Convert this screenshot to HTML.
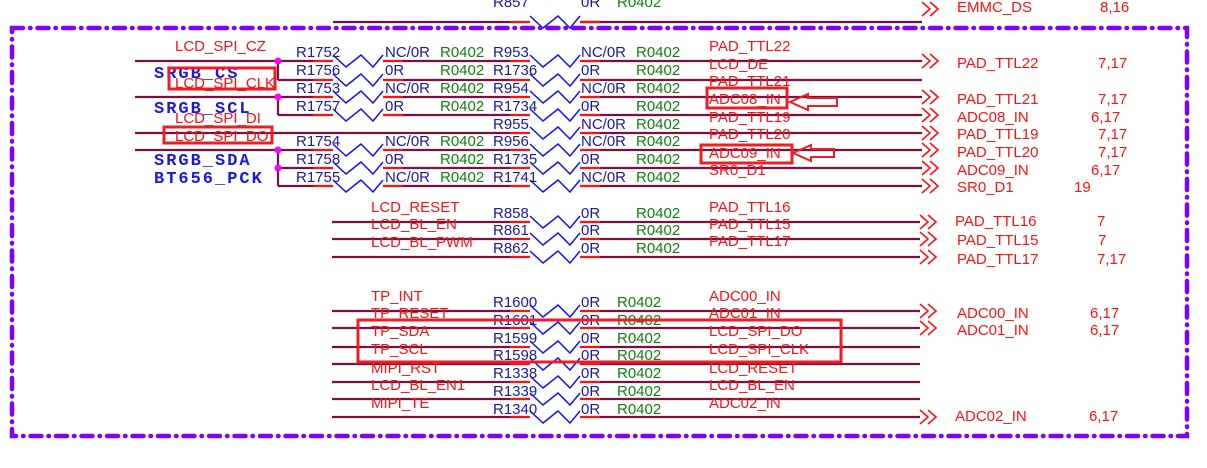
<!DOCTYPE html>
<html><head><meta charset="utf-8"><style>
html,body{margin:0;padding:0;background:#fff;}
svg{display:block;}
text{font-family:"Liberation Sans",Arial,sans-serif;font-size:15px;}
.r{fill:#ff1010;}
.b{fill:#1a1a9a;}
.g{fill:#108010;}
.m{font-family:"Liberation Mono",monospace;font-weight:bold;font-size:17px;letter-spacing:2px;fill:#1818e0;}
.w{stroke:#7a1040;stroke-width:2.2;fill:none;}
.z{stroke:#1010ff;stroke-width:1.5;fill:none;}
.s{stroke:#ff1010;stroke-width:2.2;}
.c{stroke:#ff1010;stroke-width:1.6;fill:none;}
.bx{stroke:#ee1c24;stroke-width:3;fill:none;}
</style></head><body>
<svg width="1207" height="468" viewBox="0 0 1207 468" xmlns="http://www.w3.org/2000/svg">
<defs>
<g id="zz"><polyline class="z" points="0,-6 13,6 28,-6 40,6 50,-6"/></g>
<g id="ch"><polyline class="c" points="0,-7 8,0 0,7"/><polyline class="c" points="8,-7 16,0 8,7"/></g>
</defs>

<line class="w" x1="333" y1="22" x2="510" y2="22"/><line class="w" x1="580" y1="22" x2="922" y2="22"/>
<line class="s" x1="510" y1="22" x2="530" y2="22"/><line class="s" x1="580" y1="22" x2="600" y2="22"/>
<use href="#zz" x="530" y="22"/>
<text class="b" x="493" y="7">R857</text><text class="b" x="581" y="7">0R</text><text class="g" x="617" y="7">R0402</text>
<use href="#ch" x="922" y="9"/>
<text class="r" x="957" y="12">EMMC_DS</text><text class="r" x="1100" y="12">8,16</text>

<rect x="12" y="28" width="1175" height="408" fill="none" stroke="#8000ff" stroke-width="4.5" stroke-linecap="round" stroke-dasharray="11 7 0.5 7"/>

<line class="w" x1="135" y1="61" x2="313" y2="61"/>
<line class="w" x1="278" y1="61" x2="278" y2="80"/>
<line class="w" x1="278" y1="80" x2="313" y2="80"/>
<line class="w" x1="135" y1="97" x2="313" y2="97"/>
<line class="w" x1="278" y1="97" x2="278" y2="115"/>
<line class="w" x1="278" y1="115" x2="313" y2="115"/>
<line class="w" x1="135" y1="133" x2="510" y2="133"/>
<line class="w" x1="135" y1="150" x2="313" y2="150"/>
<line class="w" x1="278" y1="150" x2="278" y2="186"/>
<line class="w" x1="278" y1="168" x2="313" y2="168"/>
<line class="w" x1="278" y1="186" x2="313" y2="186"/>
<circle cx="278" cy="61" r="3.5" fill="#ff00ff"/>
<circle cx="278" cy="97" r="3.5" fill="#ff00ff"/>
<circle cx="278" cy="150" r="3.5" fill="#ff00ff"/>
<circle cx="278" cy="168" r="3.5" fill="#ff00ff"/>

<g>
<line class="s" x1="313" y1="61" x2="333" y2="61"/><use href="#zz" x="333" y="61"/><line class="s" x1="383" y1="61" x2="403" y2="61"/><line class="w" x1="403" y1="61" x2="510" y2="61"/>
<line class="s" x1="313" y1="80" x2="333" y2="80"/><use href="#zz" x="333" y="80"/><line class="s" x1="383" y1="80" x2="403" y2="80"/><line class="w" x1="403" y1="80" x2="510" y2="80"/>
<line class="s" x1="313" y1="97" x2="333" y2="97"/><use href="#zz" x="333" y="97"/><line class="s" x1="383" y1="97" x2="403" y2="97"/><line class="w" x1="403" y1="97" x2="510" y2="97"/>
<line class="s" x1="313" y1="115" x2="333" y2="115"/><use href="#zz" x="333" y="115"/><line class="s" x1="383" y1="115" x2="403" y2="115"/><line class="w" x1="403" y1="115" x2="510" y2="115"/>
<line class="s" x1="313" y1="150" x2="333" y2="150"/><use href="#zz" x="333" y="150"/><line class="s" x1="383" y1="150" x2="403" y2="150"/><line class="w" x1="403" y1="150" x2="510" y2="150"/>
<line class="s" x1="313" y1="168" x2="333" y2="168"/><use href="#zz" x="333" y="168"/><line class="s" x1="383" y1="168" x2="403" y2="168"/><line class="w" x1="403" y1="168" x2="510" y2="168"/>
<line class="s" x1="313" y1="186" x2="333" y2="186"/><use href="#zz" x="333" y="186"/><line class="s" x1="383" y1="186" x2="403" y2="186"/><line class="w" x1="403" y1="186" x2="510" y2="186"/>
</g>
<g>
<line class="s" x1="510" y1="61" x2="530" y2="61"/><use href="#zz" x="530" y="61"/><line class="s" x1="580" y1="61" x2="600" y2="61"/><line class="w" x1="600" y1="61" x2="922" y2="61"/>
<line class="s" x1="510" y1="80" x2="530" y2="80"/><use href="#zz" x="530" y="80"/><line class="s" x1="580" y1="80" x2="600" y2="80"/><line class="w" x1="600" y1="80" x2="922" y2="80"/>
<line class="s" x1="510" y1="97" x2="530" y2="97"/><use href="#zz" x="530" y="97"/><line class="s" x1="580" y1="97" x2="600" y2="97"/><line class="w" x1="600" y1="97" x2="922" y2="97"/>
<line class="s" x1="510" y1="115" x2="530" y2="115"/><use href="#zz" x="530" y="115"/><line class="s" x1="580" y1="115" x2="600" y2="115"/><line class="w" x1="600" y1="115" x2="922" y2="115"/>
<line class="s" x1="510" y1="133" x2="530" y2="133"/><use href="#zz" x="530" y="133"/><line class="s" x1="580" y1="133" x2="600" y2="133"/><line class="w" x1="600" y1="133" x2="922" y2="133"/>
<line class="s" x1="510" y1="150" x2="530" y2="150"/><use href="#zz" x="530" y="150"/><line class="s" x1="580" y1="150" x2="600" y2="150"/><line class="w" x1="600" y1="150" x2="922" y2="150"/>
<line class="s" x1="510" y1="168" x2="530" y2="168"/><use href="#zz" x="530" y="168"/><line class="s" x1="580" y1="168" x2="600" y2="168"/><line class="w" x1="600" y1="168" x2="922" y2="168"/>
<line class="s" x1="510" y1="186" x2="530" y2="186"/><use href="#zz" x="530" y="186"/><line class="s" x1="580" y1="186" x2="600" y2="186"/><line class="w" x1="600" y1="186" x2="922" y2="186"/>
</g>
<use href="#ch" x="922" y="61"/><use href="#ch" x="922" y="97"/><use href="#ch" x="922" y="115"/><use href="#ch" x="922" y="133"/><use href="#ch" x="922" y="150"/><use href="#ch" x="922" y="168"/><use href="#ch" x="922" y="186"/>

<text class="r" x="175" y="51">LCD_SPI_CZ</text>
<text class="m" x="154" y="78">SRGB_CS</text>
<text class="r" x="175" y="88">LCD_SPI_CLK</text>
<rect class="bx" x="169" y="68" width="106" height="21"/>
<text class="m" x="154" y="113">SRGB_SCL</text>
<text class="r" x="175" y="123">LCD_SPI_DI</text>
<text class="r" x="175" y="141">LCD_SPI_DO</text>
<rect class="bx" x="164" y="127" width="108" height="16"/>
<text class="m" x="154" y="165">SRGB_SDA</text>
<text class="m" x="154" y="183">BT656_PCK</text>

<g class="b">
<text x="296" y="57">R1752</text><text x="296" y="75">R1756</text><text x="296" y="93">R1753</text><text x="296" y="111">R1757</text>
<text x="296" y="146">R1754</text><text x="296" y="164">R1758</text><text x="296" y="182">R1755</text>
<text x="385" y="57">NC/0R</text><text x="385" y="75">0R</text><text x="385" y="93">NC/0R</text><text x="385" y="111">0R</text>
<text x="385" y="146">NC/0R</text><text x="385" y="164">0R</text><text x="385" y="182">NC/0R</text>
<text x="493" y="57">R953</text><text x="493" y="75">R1736</text><text x="493" y="93">R954</text><text x="493" y="111">R1734</text><text x="493" y="129">R955</text>
<text x="493" y="146">R956</text><text x="493" y="164">R1735</text><text x="493" y="182">R1741</text>
<text x="581" y="57">NC/0R</text><text x="581" y="75">0R</text><text x="581" y="93">NC/0R</text><text x="581" y="111">0R</text><text x="581" y="129">NC/0R</text>
<text x="581" y="146">NC/0R</text><text x="581" y="164">0R</text><text x="581" y="182">NC/0R</text>
</g>
<g class="g">
<text x="440" y="57">R0402</text><text x="440" y="75">R0402</text><text x="440" y="93">R0402</text><text x="440" y="111">R0402</text>
<text x="440" y="146">R0402</text><text x="440" y="164">R0402</text><text x="440" y="182">R0402</text>
<text x="636" y="57">R0402</text><text x="636" y="75">R0402</text><text x="636" y="93">R0402</text><text x="636" y="111">R0402</text><text x="636" y="129">R0402</text>
<text x="636" y="146">R0402</text><text x="636" y="164">R0402</text><text x="636" y="182">R0402</text>
</g>
<g class="r">
<text x="709" y="51">PAD_TTL22</text><text x="709" y="69">LCD_DE</text><text x="709" y="86">PAD_TTL21</text>
<text x="709" y="104">ADC08_IN</text><text x="709" y="122">PAD_TTL19</text><text x="709" y="139">PAD_TTL20</text>
<text x="709" y="158">ADC09_IN</text><text x="709" y="175">SR0_D1</text>
</g>
<rect class="bx" x="707" y="88" width="80" height="20"/>
<rect class="bx" x="701" y="145" width="91" height="18"/>
<polygon points="790,102 808,94 808,98 837,98 837,106 808,106 808,110" fill="none" stroke="#ee1c24" stroke-width="2"/>
<polygon points="793,153 811,145 811,149 834,149 834,157 811,157 811,161" fill="none" stroke="#ee1c24" stroke-width="2"/>

<g class="r">
<text x="957" y="68">PAD_TTL22</text><text x="1098" y="68">7,17</text>
<text x="957" y="104">PAD_TTL21</text><text x="1098" y="104">7,17</text>
<text x="957" y="122">ADC08_IN</text><text x="1091" y="122">6,17</text>
<text x="957" y="139">PAD_TTL19</text><text x="1098" y="139">7,17</text>
<text x="957" y="157">PAD_TTL20</text><text x="1098" y="157">7,17</text>
<text x="957" y="175">ADC09_IN</text><text x="1091" y="175">6,17</text>
<text x="957" y="192">SR0_D1</text><text x="1074" y="192">19</text>
</g>

<g>
<line class="w" x1="332" y1="222" x2="510" y2="222"/><line class="s" x1="510" y1="222" x2="530" y2="222"/><use href="#zz" x="530" y="222"/><line class="s" x1="580" y1="222" x2="600" y2="222"/><line class="w" x1="600" y1="222" x2="920" y2="222"/>
<line class="w" x1="332" y1="239" x2="510" y2="239"/><line class="s" x1="510" y1="239" x2="530" y2="239"/><use href="#zz" x="530" y="239"/><line class="s" x1="580" y1="239" x2="600" y2="239"/><line class="w" x1="600" y1="239" x2="920" y2="239"/>
<line class="w" x1="332" y1="257" x2="510" y2="257"/><line class="s" x1="510" y1="257" x2="530" y2="257"/><use href="#zz" x="530" y="257"/><line class="s" x1="580" y1="257" x2="600" y2="257"/><line class="w" x1="600" y1="257" x2="920" y2="257"/>
</g>
<use href="#ch" x="920" y="222"/><use href="#ch" x="920" y="239"/><use href="#ch" x="920" y="257"/>
<g class="r">
<text x="371" y="212">LCD_RESET</text><text x="371" y="229">LCD_BL_EN</text><text x="371" y="247">LCD_BL_PWM</text>
<text x="709" y="212">PAD_TTL16</text><text x="709" y="229">PAD_TTL15</text><text x="709" y="246">PAD_TTL17</text>
<text x="955" y="226">PAD_TTL16</text><text x="1097" y="226">7</text>
<text x="957" y="245">PAD_TTL15</text><text x="1098" y="245">7</text>
<text x="957" y="264">PAD_TTL17</text><text x="1097" y="264">7,17</text>
</g>
<g class="b"><text x="493" y="218">R858</text><text x="493" y="235">R861</text><text x="493" y="253">R862</text>
<text x="581" y="218">0R</text><text x="581" y="235">0R</text><text x="581" y="253">0R</text></g>
<g class="g"><text x="636" y="218">R0402</text><text x="636" y="235">R0402</text><text x="636" y="253">R0402</text></g>

<g>
<line class="w" x1="332" y1="311" x2="510" y2="311"/><line class="s" x1="510" y1="311" x2="530" y2="311"/><use href="#zz" x="530" y="311"/><line class="s" x1="580" y1="311" x2="600" y2="311"/><line class="w" x1="600" y1="311" x2="920" y2="311"/>
<line class="w" x1="332" y1="328" x2="510" y2="328"/><line class="s" x1="510" y1="328" x2="530" y2="328"/><use href="#zz" x="530" y="328"/><line class="s" x1="580" y1="328" x2="600" y2="328"/><line class="w" x1="600" y1="328" x2="920" y2="328"/>
<line class="w" x1="332" y1="347" x2="510" y2="347"/><line class="s" x1="510" y1="347" x2="530" y2="347"/><use href="#zz" x="530" y="347"/><line class="s" x1="580" y1="347" x2="600" y2="347"/><line class="w" x1="600" y1="347" x2="920" y2="347"/>
<line class="w" x1="332" y1="364" x2="510" y2="364"/><line class="s" x1="510" y1="364" x2="530" y2="364"/><use href="#zz" x="530" y="364"/><line class="s" x1="580" y1="364" x2="600" y2="364"/><line class="w" x1="600" y1="364" x2="920" y2="364"/>
<line class="w" x1="332" y1="382" x2="510" y2="382"/><line class="s" x1="510" y1="382" x2="530" y2="382"/><use href="#zz" x="530" y="382"/><line class="s" x1="580" y1="382" x2="600" y2="382"/><line class="w" x1="600" y1="382" x2="920" y2="382"/>
<line class="w" x1="332" y1="399" x2="510" y2="399"/><line class="s" x1="510" y1="399" x2="530" y2="399"/><use href="#zz" x="530" y="399"/><line class="s" x1="580" y1="399" x2="600" y2="399"/><line class="w" x1="600" y1="399" x2="920" y2="399"/>
<line class="w" x1="332" y1="417" x2="510" y2="417"/><line class="s" x1="510" y1="417" x2="530" y2="417"/><use href="#zz" x="530" y="417"/><line class="s" x1="580" y1="417" x2="600" y2="417"/><line class="w" x1="600" y1="417" x2="920" y2="417"/>
</g>
<use href="#ch" x="920" y="311"/><use href="#ch" x="920" y="328"/><use href="#ch" x="920" y="417"/>
<g class="r">
<text x="371" y="301">TP_INT</text><text x="371" y="318">TP_RESET</text><text x="371" y="336">TP_SDA</text><text x="371" y="354">TP_SCL</text>
<text x="371" y="373">MIPI_RST</text><text x="371" y="390">LCD_BL_EN1</text><text x="371" y="408">MIPI_TE</text>
<text x="709" y="301">ADC00_IN</text><text x="709" y="318">ADC01_IN</text><text x="709" y="336">LCD_SPI_DO</text><text x="709" y="354">LCD_SPI_CLK</text>
<text x="709" y="373">LCD_RESET</text><text x="709" y="390">LCD_BL_EN</text><text x="709" y="408">ADC02_IN</text>
<text x="957" y="318">ADC00_IN</text><text x="1090" y="318">6,17</text>
<text x="957" y="335">ADC01_IN</text><text x="1090" y="335">6,17</text>
<text x="955" y="421">ADC02_IN</text><text x="1089" y="421">6,17</text>
</g>
<g class="b">
<text x="493" y="307">R1600</text><text x="493" y="325">R1601</text><text x="493" y="343">R1599</text><text x="493" y="360">R1598</text>
<text x="493" y="378">R1338</text><text x="493" y="396">R1339</text><text x="493" y="414">R1340</text>
<text x="581" y="307">0R</text><text x="581" y="325">0R</text><text x="581" y="343">0R</text><text x="581" y="360">0R</text>
<text x="581" y="378">0R</text><text x="581" y="396">0R</text><text x="581" y="414">0R</text>
</g>
<g class="g">
<text x="617" y="307">R0402</text><text x="617" y="325">R0402</text><text x="617" y="343">R0402</text><text x="617" y="360">R0402</text>
<text x="617" y="378">R0402</text><text x="617" y="396">R0402</text><text x="617" y="414">R0402</text>
</g>
<rect class="bx" x="358" y="320" width="483" height="42"/>
</svg>
</body></html>
